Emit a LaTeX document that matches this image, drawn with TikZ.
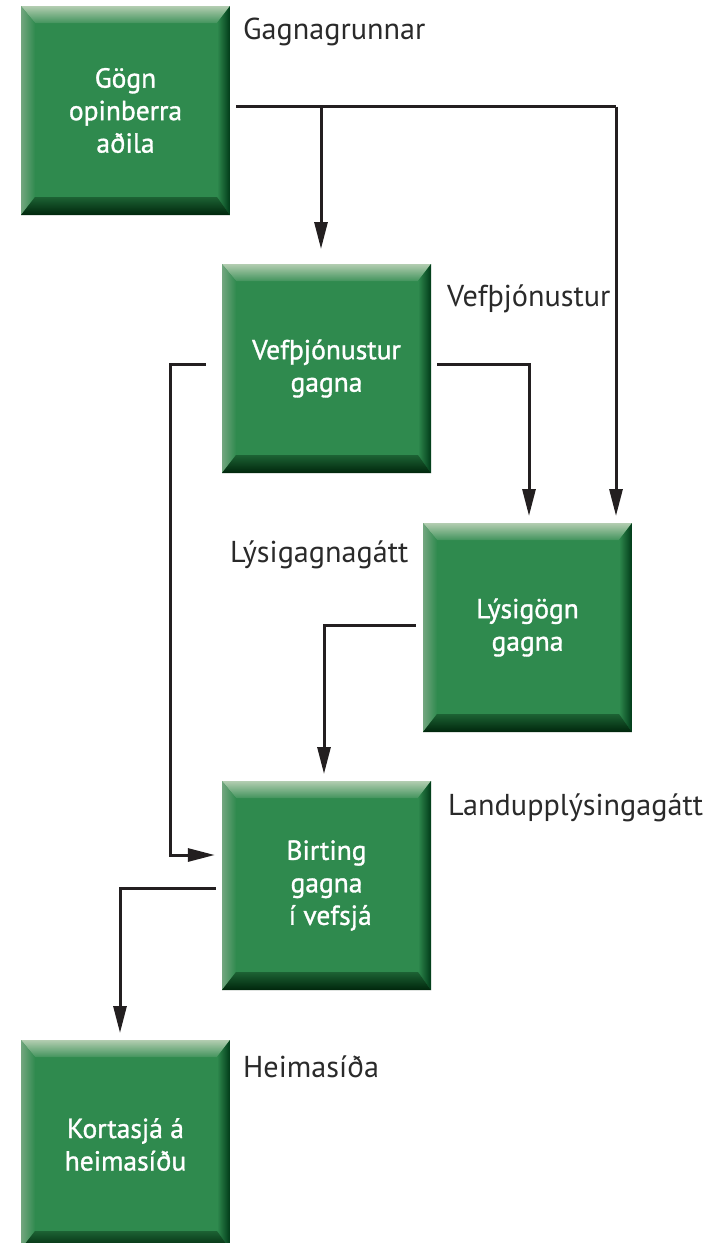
\documentclass[tikz,border=0pt]{standalone}
\usepackage{fontspec}
\setmainfont{PT Sans}
\newfontfamily\boxfam[BoldFont={PT Sans},BoldFeatures={FakeBold=1.2}]{PT Sans}
\usetikzlibrary{arrows.meta,calc}
\definecolor{boxgreen}{HTML}{2F8A4E}
\definecolor{toplight}{HTML}{B3CDB1}
\definecolor{leftlight}{HTML}{73A67F}
\definecolor{rightdark}{HTML}{003A18}
\definecolor{bottomdark}{HTML}{00260C}
\definecolor{linecol}{HTML}{231F20}
\definecolor{labelcol}{HTML}{2A2A2A}
\newcommand\boxfont{\boxfam\bfseries\fontsize{27.5}{32.5}\selectfont}
\newcommand\labfont{\fontsize{30.2}{34}\selectfont}
\tikzset{
  greenbox/.style={minimum width=209pt, minimum height=209pt, inner sep=0pt,
    fill=boxgreen, text=white, align=center, font=\boxfont,
    path picture={
      \coordinate (pnw) at (path picture bounding box.north west);
      \coordinate (pne) at (path picture bounding box.north east);
      \coordinate (psw) at (path picture bounding box.south west);
      \coordinate (pse) at (path picture bounding box.south east);
      \shade[top color=toplight, bottom color=boxgreen!85!toplight]
        (pnw) -- (pne) -- ($(pne)+(-13,17)$) -- ($(pnw)+(14,17)$) -- cycle;
      \shade[left color=leftlight, right color=boxgreen]
        (pnw) -- ($(pnw)+(14,17)$) -- ($(psw)+(14,-18)$) -- (psw) -- cycle;
      \shade[left color=boxgreen, right color=rightdark]
        (pne) -- ($(pne)+(-13,17)$) -- ($(pse)+(-13,-18)$) -- (pse) -- cycle;
      \shade[top color=boxgreen!60!bottomdark, bottom color=bottomdark]
        (psw) -- ($(psw)+(14,-18)$) -- ($(pse)+(-13,-18)$) -- (pse) -- cycle;
    }},
  conn/.style={line width=3pt, draw=linecol},
  arr/.style={conn, -{Triangle[length=27pt,width=13pt]}},
  lab/.style={anchor=base west, inner sep=0pt, text=labelcol, font=\labfont}
}
\begin{document}
\begin{tikzpicture}[x=1pt,y=-1pt]
\useasboundingbox (0,0) rectangle (723,1243);
\clip (0,0) rectangle (723,1243);
\fill[white] (0,0) rectangle (723,1243);

\node[greenbox] (b1) at (125.5,110.5) {Gögn\\opinberra\\aðila};
\node[greenbox] (b2) at (326.5,368.5) {Vefþjónustur\\gagna};
\node[greenbox] (b3) at (527.5,627.5) {Lýsigögn\\gagna};
\node[greenbox] (b4) at (326.5,885.5) {Birting\\gagna\\\ í vefsjá};
\node[greenbox] (b5) at (125.5,1144.5) {Kortasjá á\\heimasíðu};

\node[lab] (l1) at (243,39) {Gagnagrunnar};
\node[lab] (l2) at (447,306) {Vefþjónustur};
\node[lab] (l3) at (230,562) {Lýsigagnagátt};
\node[lab] (l4) at (448,815) {Landupplýsingagátt};
\node[lab] (l5) at (243,1077) {Heimasíða};

% connector 1: b1 -> b2 and b3
\coordinate (c1s) at ($(b1.east)+(6,-4)$);
\coordinate (c1j) at (321,106.5);
\coordinate (c1r) at (616,106.5);
\draw[conn] (c1s) -- (c1r);
\draw[arr] (c1j) -- (c1j |- 0,249);
\draw[arr] (c1r) -- (616,516);

% connector 2: b2 -> b3
\coordinate (c2s) at ($(b2.east)+(6,-4.5)$);
\draw[arr] (c2s) -- (529,364) -- (529,516);

% connector 3: b3 -> b4
\coordinate (c3s) at ($(b3.west)+(-7,-2.5)$);
\draw[arr] (c3s) -- (324,625) -- (324,774);

% connector 4: b2 -> b4 (left loop)
\coordinate (c4s) at ($(b2.west)+(-16,-4.5)$);
\coordinate (c4e) at ($(b4.west)+(-7,-30.5)$);
\draw[arr] (c4s) -- (170,364) -- (170,855) -- (c4e);

% connector 5: b4 -> b5
\coordinate (c5s) at ($(b4.west)+(-6,2.5)$);
\draw[arr] (c5s) -- (120,888) -- (120,1033);
\end{tikzpicture}
\end{document}
